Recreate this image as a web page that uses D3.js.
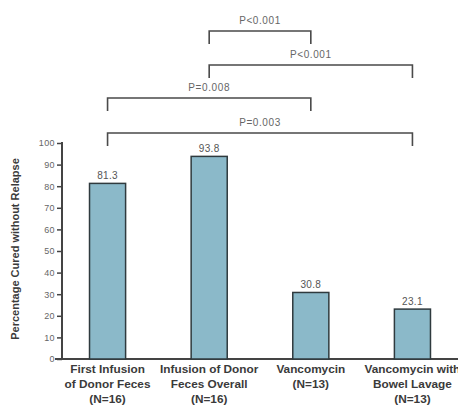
<!DOCTYPE html>
<html>
<head>
<meta charset="utf-8">
<script src="https://cdn.jsdelivr.net/npm/d3@7"></script>
<style>
  html, body { margin: 0; padding: 0; background: #fff; }
  svg { display: block; }
</style>
</head>
<body>
<svg id="chart" width="458" height="406"></svg>
<script>
// Cure rates by treatment group
const groups = [
  ["First Infusion", "of Donor Feces", "(N=16)"],
  ["Infusion of Donor", "Feces Overall", "(N=16)"],
  ["Vancomycin", "(N=13)"],
  ["Vancomycin with", "Bowel Lavage", "(N=13)"]
];
const cured = [81.3, 93.8, 30.8, 23.1];
const yTicks = [0, 10, 20, 30, 40, 50, 60, 70, 80, 90, 100];

// Pairwise comparisons: [from group, to group, label], top to bottom
const comparisons = [
  [1, 2, "P<0.001"],
  [1, 3, "P<0.001"],
  [0, 2, "P=0.008"],
  [0, 3, "P=0.003"]
];

const svg = d3.select("#chart");
const axisColor = "#444";
const textColor = "#3a3a3a";
const font = "Liberation Sans, Arial, sans-serif";

const x = d3.scaleBand()
  .domain(d3.range(groups.length))
  .range([57, 463])
  .paddingInner(0.645)
  .paddingOuter(0.32);

const y = d3.scaleLinear().domain([0, 100]).range([359, 143]);

// y axis
const yAxis = svg.append("g")
  .attr("transform", "translate(62,0)")
  .call(d3.axisLeft(y).tickValues(yTicks).tickSize(5).tickPadding(2));
yAxis.select(".domain").attr("stroke", axisColor).attr("stroke-width", 2)
  .attr("d", `M0,${y(100) - 1}V${y(0)}`);
yAxis.selectAll(".tick line").attr("stroke", axisColor).attr("stroke-width", 1.5);
yAxis.selectAll(".tick text")
  .attr("font-family", font)
  .attr("font-size", 9)
  .attr("letter-spacing", 0.4)
  .attr("fill", "#666");

// baseline
svg.append("line")
  .attr("x1", 55).attr("x2", 458)
  .attr("y1", y(0)).attr("y2", y(0))
  .attr("stroke", axisColor).attr("stroke-width", 2);

// y axis title
svg.append("text")
  .attr("transform", `translate(19,249) rotate(-90)`)
  .attr("text-anchor", "middle")
  .attr("font-family", font)
  .attr("font-weight", "bold")
  .attr("font-size", 11)
  .attr("fill", textColor)
  .text("Percentage Cured without Relapse");

// bars
svg.append("g").selectAll("rect")
  .data(cured)
  .join("rect")
  .attr("x", (d, i) => x(i))
  .attr("width", x.bandwidth())
  .attr("y", d => y(d))
  .attr("height", d => y(0) - y(d))
  .attr("fill", "#8bb9c9")
  .attr("stroke", "#2f3a3e")
  .attr("stroke-width", 1.5);

// value labels
svg.append("g").selectAll("text")
  .data(cured)
  .join("text")
  .attr("x", (d, i) => x(i) + x.bandwidth() / 2)
  .attr("y", d => y(d) - 4)
  .attr("text-anchor", "middle")
  .attr("font-family", font)
  .attr("font-size", 10)
  .attr("letter-spacing", 0.3)
  .attr("fill", "#555")
  .text(d => d.toFixed(1));

// category labels
const cat = svg.append("g").selectAll("text")
  .data(groups)
  .join("text")
  .attr("x", (d, i) => x(i) + x.bandwidth() / 2)
  .attr("y", 373)
  .attr("text-anchor", "middle")
  .attr("font-family", font)
  .attr("font-weight", "bold")
  .attr("font-size", 11.8)
  .attr("fill", textColor);
cat.selectAll("tspan")
  .data(d => d)
  .join("tspan")
  .attr("x", function () { return d3.select(this.parentNode).attr("x"); })
  .attr("dy", (d, i) => i === 0 ? 0 : 15)
  .text(d => d);

// comparison brackets
const cx = i => x(i) + x.bandwidth() / 2;
const bracketTop = [31, 65, 98, 133];
const bracketDrop = 13;
comparisons.forEach(([a, b, label], k) => {
  const top = bracketTop[k];
  svg.append("path")
    .attr("d", `M${cx(a)},${top + bracketDrop}V${top}H${cx(b)}V${top + bracketDrop}`)
    .attr("fill", "none")
    .attr("stroke", "#4a4a4a")
    .attr("stroke-width", 1.6);
  svg.append("text")
    .attr("x", (cx(a) + cx(b)) / 2)
    .attr("y", top - 7)
    .attr("text-anchor", "middle")
    .attr("font-family", font)
    .attr("font-size", 10)
    .attr("letter-spacing", 0.6)
    .attr("fill", "#666")
    .text(label);
});
</script>
</body>
</html>
